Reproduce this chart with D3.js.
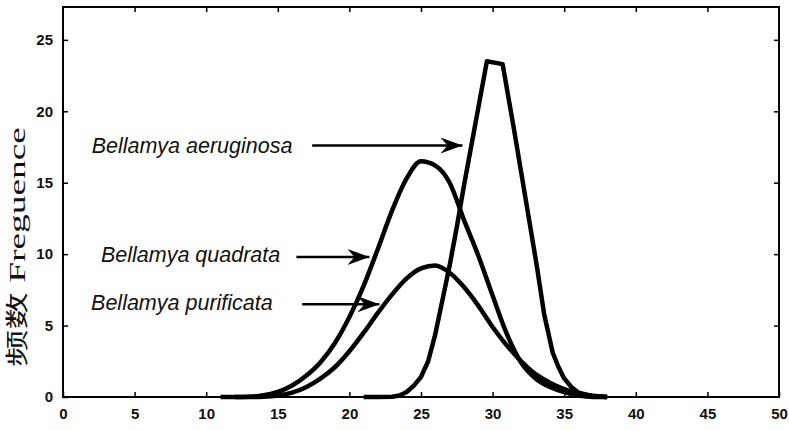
<!DOCTYPE html>
<html>
<head>
<meta charset="utf-8">
<script src="https://cdn.jsdelivr.net/npm/d3@7"></script>
<style>
  html, body { margin: 0; padding: 0; background: #fff; }
  svg { display: block; }
  .tick-label { font-family: "Liberation Sans", Arial, sans-serif; font-size: 15px; font-weight: bold; fill: #111; }
  .species { font-family: "Liberation Sans", Arial, sans-serif; font-size: 21.5px; font-style: italic; fill: #111; }
</style>
</head>
<body>
<svg id="chart"></svg>
<script>
// x ticks and y ticks
const xTicks = [0, 5, 10, 15, 20, 25, 30, 35, 40, 45, 50];
const yTicks = [0, 5, 10, 15, 20, 25];

// Bellamya aeruginosa (narrow curve, drawn as a polyline)
const xAeruginosa = [21, 22, 23, 23.5, 24, 24.5, 25, 25.5, 26, 26.5, 27, 27.5, 28, 29.6, 30.7, 31.5, 32.4, 33.1, 33.6, 34.2, 34.6, 35, 35.5, 36, 37, 38];
const yAeruginosa = [0, 0, 0.02, 0.1, 0.35, 0.8, 1.4, 2.5, 4.4, 6.8, 9.2, 11.9, 14.8, 23.5, 23.3, 18.7, 13.3, 9.1, 5.8, 3.1, 2.1, 1.3, 0.7, 0.3, 0.05, 0];

// Bellamya quadrata
const xQuadrata = [11, 12, 13, 14, 15, 16, 17, 18, 19, 20, 21, 22, 23, 24, 25, 26, 27, 28, 29, 30, 31, 32, 33, 34, 35, 36, 37, 38];
const yQuadrata = [0, 0, 0.02, 0.12, 0.35, 0.8, 1.5, 2.45, 3.8, 5.6, 7.8, 10.4, 13.1, 15.3, 16.5, 16.2, 15.0, 12.4, 9.9, 7.1, 4.4, 2.4, 1.3, 0.7, 0.35, 0.1, 0, 0];

// Bellamya purificata
const xPurificata = [12, 13, 14, 15, 16, 17, 18, 19, 20, 21, 22, 23, 24, 25, 26, 27, 28, 29, 30, 31, 32, 33, 34, 35, 36, 37, 38];
const yPurificata = [0, 0, 0.02, 0.1, 0.3, 0.7, 1.3, 2.1, 3.2, 4.5, 5.9, 7.2, 8.3, 9.0, 9.2, 8.7, 7.7, 6.4, 4.9, 3.6, 2.5, 1.6, 1.0, 0.55, 0.25, 0.08, 0];

const speciesNames = ["Bellamya aeruginosa", "Bellamya quadrata", "Bellamya purificata"];

const width = 789, height = 431;
const margin = { top: 7, right: 10, bottom: 34, left: 63 };

const svg = d3.select("#chart").attr("width", width).attr("height", height);

const x = d3.scaleLinear().domain([0, 50]).range([margin.left, width - margin.right]);
const y = d3.scaleLinear().domain([0, 27.3]).range([height - margin.bottom, margin.top]);

const zip = (xs, ys) => xs.map((v, i) => [v, ys[i]]);
const series = [
  { pts: zip(xAeruginosa, yAeruginosa), curve: d3.curveLinear },
  { pts: zip(xQuadrata, yQuadrata), curve: d3.curveMonotoneX },
  { pts: zip(xPurificata, yPurificata), curve: d3.curveMonotoneX }
];

// curves
series.forEach(s => {
  const line = d3.line().x(d => x(d[0])).y(d => y(d[1])).curve(s.curve);
  svg.append("path")
    .attr("d", line(s.pts))
    .attr("fill", "none")
    .attr("stroke", "#000")
    .attr("stroke-width", 4.5)
    .attr("stroke-linejoin", "round");
});

// frame
svg.append("rect")
  .attr("x", x(0)).attr("y", y(27.3))
  .attr("width", x(50) - x(0)).attr("height", y(0) - y(27.3))
  .attr("fill", "none").attr("stroke", "#000").attr("stroke-width", 2);

// axes, ticks drawn inward
const tickLen = 5;
const xAxis = svg.append("g").attr("transform", `translate(0, ${y(0)})`)
  .call(d3.axisBottom(x).tickValues(xTicks).tickSize(-tickLen).tickPadding(11));
const xAxisTop = svg.append("g").attr("transform", `translate(0, ${y(27.3)})`)
  .call(d3.axisTop(x).tickValues(xTicks.slice(1, -1)).tickSize(-tickLen).tickFormat(""));
const yAxis = svg.append("g").attr("transform", `translate(${x(0)}, 0)`)
  .call(d3.axisLeft(y).tickValues(yTicks).tickSize(-tickLen).tickPadding(10));
const yAxisRight = svg.append("g").attr("transform", `translate(${x(50)}, 0)`)
  .call(d3.axisRight(y).tickValues(yTicks.slice(1)).tickSize(-tickLen).tickFormat(""));

[xAxis, xAxisTop, yAxis, yAxisRight].forEach(g => {
  g.select(".domain").remove();
  g.selectAll(".tick line").attr("stroke", "#000").attr("stroke-width", 1.5);
  g.selectAll(".tick text").attr("class", "tick-label").attr("font-family", null).attr("font-size", null);
});

// y axis title
svg.append("text")
  .attr("transform", `translate(25, 247) rotate(-90)`)
  .attr("text-anchor", "middle")
  .attr("textLength", 240)
  .attr("lengthAdjust", "spacingAndGlyphs")
  .style("font-family", "'Liberation Serif', 'Noto Sans CJK SC', serif")
  .style("font-size", "23px")
  .style("fill", "#111")
  .text("频数 Freguence");

// annotations with arrows (data coordinates)
const notes = [
  { label: speciesNames[0], tx: 2.0, ty: 17.1, ax1: 17.4, ax2: 27.9, ay: 17.6 },
  { label: speciesNames[1], tx: 2.65, ty: 9.45, ax1: 16.3, ax2: 21.4, ay: 9.8 },
  { label: speciesNames[2], tx: 1.96, ty: 6.1, ax1: 16.7, ax2: 22.1, ay: 6.5 }
];

svg.append("defs").append("marker")
  .attr("id", "arrow")
  .attr("viewBox", "-24 -9 26 18")
  .attr("refX", 0).attr("refY", 0)
  .attr("markerWidth", 26).attr("markerHeight", 18)
  .attr("markerUnits", "userSpaceOnUse")
  .attr("orient", "auto")
  .append("path")
  .attr("d", "M0,0 L-22,-8 L-15,0 L-22,8 Z")
  .attr("fill", "#000");

notes.forEach(n => {
  svg.append("text")
    .attr("class", "species")
    .attr("x", x(n.tx)).attr("y", y(n.ty))
    .text(n.label);
  svg.append("line")
    .attr("x1", x(n.ax1)).attr("x2", x(n.ax2))
    .attr("y1", y(n.ay)).attr("y2", y(n.ay))
    .attr("stroke", "#000").attr("stroke-width", 2.5)
    .attr("marker-end", "url(#arrow)");
});
</script>
</body>
</html>
